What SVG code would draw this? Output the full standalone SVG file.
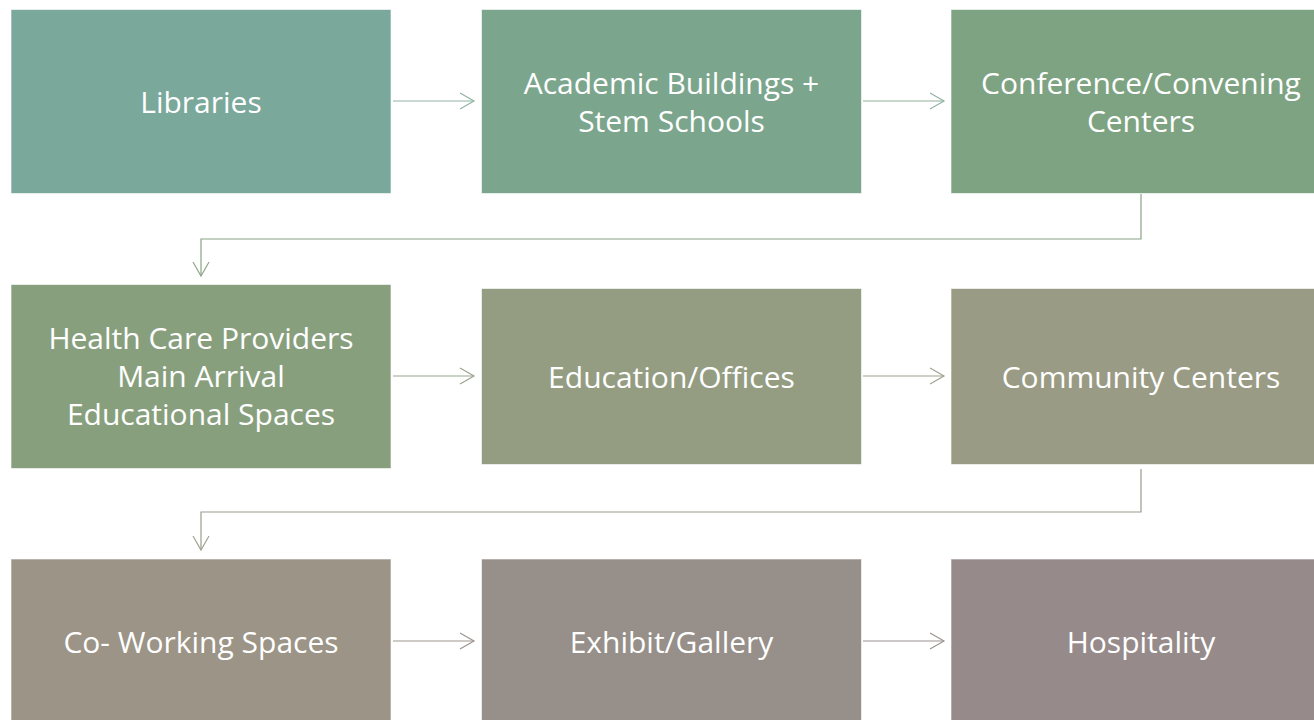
<svg xmlns="http://www.w3.org/2000/svg" width="1314" height="720" viewBox="0 0 1314 720">
  <defs>
    <style>
      .box { stroke: #ffffff; stroke-width: 1; stroke-opacity: 0.6; }
      .label { font-family: "Open Sans", "Noto Sans", "Liberation Sans", sans-serif; font-size: 30px; fill: #ffffff; text-anchor: middle; dominant-baseline: central; }
      .link { fill: none; stroke-width: 1.2; }
    </style>
    <marker id="chev-teal" markerUnits="userSpaceOnUse" markerWidth="20" markerHeight="20" refX="0" refY="0" viewBox="-16 -10 18 20" orient="auto">
      <path d="M-14,-8 L0,0 L-14,8" fill="none" stroke="#8fb3a3" stroke-width="1.2"/>
    </marker>
    <marker id="chev-sage" markerUnits="userSpaceOnUse" markerWidth="20" markerHeight="20" refX="0" refY="0" viewBox="-16 -10 18 20" orient="auto">
      <path d="M-14,-8 L0,0 L-14,8" fill="none" stroke="#8ea686" stroke-width="1.2"/>
    </marker>
    <marker id="chev-olive" markerUnits="userSpaceOnUse" markerWidth="20" markerHeight="20" refX="0" refY="0" viewBox="-16 -10 18 20" orient="auto">
      <path d="M-14,-8 L0,0 L-14,8" fill="none" stroke="#9da38d" stroke-width="1.2"/>
    </marker>
    <marker id="chev-taupe" markerUnits="userSpaceOnUse" markerWidth="20" markerHeight="20" refX="0" refY="0" viewBox="-16 -10 18 20" orient="auto">
      <path d="M-14,-8 L0,0 L-14,8" fill="none" stroke="#9d9490" stroke-width="1.2"/>
    </marker>
  </defs>

  <rect width="1314" height="720" fill="#ffffff"/>

  <!-- connectors -->
  <g id="connectors">
    <line class="link" x1="393" y1="101" x2="474" y2="101" stroke="#8fb3a3" marker-end="url(#chev-teal)"/>
    <line class="link" x1="863" y1="101" x2="944" y2="101" stroke="#8fb09a" marker-end="url(#chev-teal)"/>
    <polyline class="link" points="1141,194 1141,239 201,239 201,276" stroke="#8aa485" marker-end="url(#chev-sage)"/>
    <line class="link" x1="393" y1="376" x2="474" y2="376" stroke="#98a68e" marker-end="url(#chev-olive)"/>
    <line class="link" x1="863" y1="376" x2="944" y2="376" stroke="#9ea290" marker-end="url(#chev-olive)"/>
    <polyline class="link" points="1141,469 1141,512 201,512 201,550" stroke="#9e9b8b" marker-end="url(#chev-olive)"/>
    <line class="link" x1="393" y1="641" x2="474" y2="641" stroke="#9e9790" marker-end="url(#chev-taupe)"/>
    <line class="link" x1="863" y1="641" x2="944" y2="641" stroke="#9c9192" marker-end="url(#chev-taupe)"/>
  </g>

  <!-- row 1 -->
  <g id="libraries">
    <rect class="box" x="11" y="9.5" width="380" height="184" fill="#7aa89b"/>
    <text class="label" x="201" y="101">Libraries</text>
  </g>
  <g id="academic">
    <rect class="box" x="481.5" y="9.5" width="380" height="184" fill="#7ba68d"/>
    <text class="label" x="671.5" y="82">Academic Buildings +</text>
    <text class="label" x="671.5" y="120">Stem Schools</text>
  </g>
  <g id="conference">
    <rect class="box" x="951" y="9.5" width="380" height="184" fill="#7ea382"/>
    <text class="label" x="1141" y="82">Conference/Convening</text>
    <text class="label" x="1141" y="120">Centers</text>
  </g>

  <!-- row 2 -->
  <g id="health-care">
    <rect class="box" x="11" y="284.5" width="380" height="184" fill="#889f7e"/>
    <text class="label" x="201" y="337">Health Care Providers</text>
    <text class="label" x="201" y="375">Main Arrival</text>
    <text class="label" x="201" y="413">Educational Spaces</text>
  </g>
  <g id="education-offices">
    <rect class="box" x="481.5" y="288.5" width="380" height="176" fill="#949d82"/>
    <text class="label" x="671.5" y="376">Education/Offices</text>
  </g>
  <g id="community">
    <rect class="box" x="951" y="288.5" width="380" height="176" fill="#9a9b84"/>
    <text class="label" x="1141" y="376">Community Centers</text>
  </g>

  <!-- row 3 -->
  <g id="co-working">
    <rect class="box" x="11" y="559" width="380" height="184" fill="#9b9487"/>
    <text class="label" x="201" y="641">Co- Working Spaces</text>
  </g>
  <g id="exhibit">
    <rect class="box" x="481.5" y="559" width="380" height="184" fill="#978f89"/>
    <text class="label" x="671.5" y="641">Exhibit/Gallery</text>
  </g>
  <g id="hospitality">
    <rect class="box" x="951" y="559" width="380" height="184" fill="#968b8a"/>
    <text class="label" x="1141" y="641">Hospitality</text>
  </g>
</svg>
